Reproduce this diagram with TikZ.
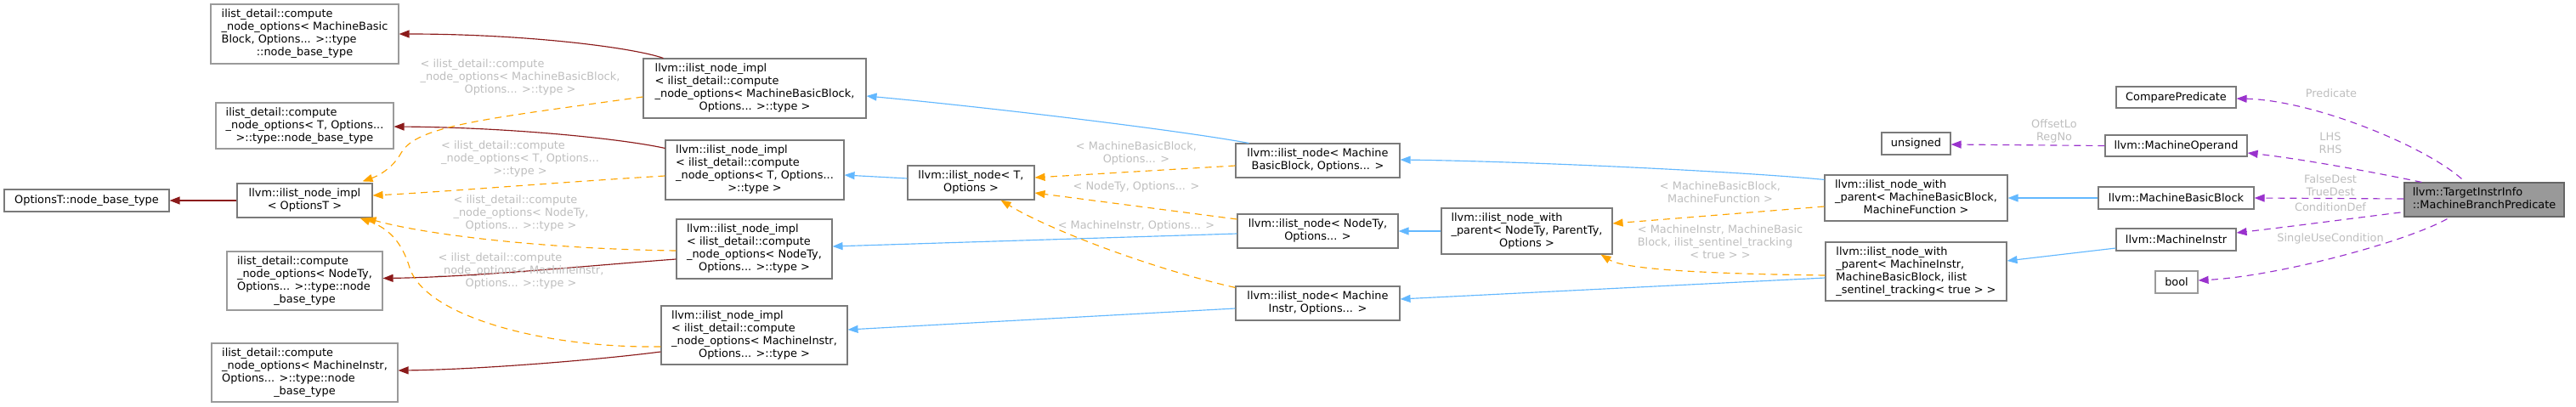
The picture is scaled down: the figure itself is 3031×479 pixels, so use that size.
\documentclass[tikz,border=0pt]{standalone}
\usepackage{fontspec}
\setmainfont{DejaVu Sans}
\usetikzlibrary{arrows.meta,calc}
\definecolor{edgered}{HTML}{8B1A1A}
\definecolor{edgeblue}{HTML}{63B8FF}
\definecolor{edgeorange}{HTML}{FFA500}
\definecolor{edgepurple}{HTML}{9A32CD}
\definecolor{lblgray}{HTML}{BEBEBE}
\definecolor{nodeborder}{HTML}{7A7A7A}
\definecolor{nodelight}{HTML}{9A9A9A}
\definecolor{mainfill}{HTML}{999999}
\newcommand\dxfont{\fontsize{12.9}{15}\selectfont}
\newcommand\dxl[2]{\renewcommand\arraystretch{1}\begin{tabular}{@{}l@{}}#1\\\multicolumn{1}{@{}c@{}}{#2}\end{tabular}}
\tikzset{
  box/.style={draw=nodeborder, fill=white, line width=1.1pt, inner sep=0pt, font=\dxfont, align=center},
  lbox/.style={box, draw=nodelight},
  mainbox/.style={box, draw=black!60, fill=mainfill},
  lbl/.style={text=lblgray, inner sep=0pt, font=\dxfont, align=center},
  edgebase/.style={line width=1.15pt, -{Triangle[length=12pt,width=9pt]}},
  redarr/.style={edgebase, draw=edgered, -{Triangle[length=12pt,width=9pt,fill=edgered]}},
  bluarr/.style={edgebase, draw=edgeblue, -{Triangle[length=12pt,width=9pt,fill=edgeblue]}},
  orarr/.style={edgebase, draw=edgeorange, dash pattern=on 8pt off 6pt, -{Triangle[length=12pt,width=9pt,fill=edgeorange]}},
  purarr/.style={edgebase, draw=edgepurple, dash pattern=on 8pt off 6pt, -{Triangle[length=12pt,width=9pt,fill=edgepurple]}},
}
\begin{document}
\begin{tikzpicture}[x=1pt,y=-1pt]
\useasboundingbox (0,0) rectangle (3031,479);
% nodes
\node[lbox, minimum width=221pt, minimum height=70pt] (a1) at (358.5,40) {\dxl{ilist\_detail::compute\\\_node\_options< MachineBasic\\Block, Options... >::type}{::node\_base\_type}};
\node[lbox, minimum width=209pt, minimum height=54pt] (a2) at (358.5,148) {\dxl{ilist\_detail::compute\\\_node\_options< T, Options...}{>::type::node\_base\_type}};
\node[box, minimum width=159pt, minimum height=40pt] (impl) at (358.5,236) {\dxl{llvm::ilist\_node\_impl}{< OptionsT >}};
\node[box, minimum width=194pt, minimum height=26pt] (ot) at (102,236) {OptionsT::node\_base\_type};
\node[lbox, minimum width=183pt, minimum height=69pt] (a3) at (358.5,330.5) {\dxl{ilist\_detail::compute\\\_node\_options< NodeTy,\\Options... >::type::node}{\_base\_type}};
\node[lbox, minimum width=219pt, minimum height=69pt] (a4) at (358.5,438.5) {\dxl{ilist\_detail::compute\\\_node\_options< MachineInstr,\\Options... >::type::node}{\_base\_type}};
\node[box, minimum width=262pt, minimum height=70pt] (b1) at (888,104) {\dxl{llvm::ilist\_node\_impl\\< ilist\_detail::compute\\\_node\_options< MachineBasicBlock,}{Options... >::type >}};
\node[box, minimum width=210pt, minimum height=70pt] (b2) at (888,200) {\dxl{llvm::ilist\_node\_impl\\< ilist\_detail::compute\\\_node\_options< T, Options...}{>::type >}};
\node[box, minimum width=183pt, minimum height=70pt] (b3) at (887.5,293) {\dxl{llvm::ilist\_node\_impl\\< ilist\_detail::compute\\\_node\_options< NodeTy,}{Options... >::type >}};
\node[box, minimum width=219pt, minimum height=69pt] (b4) at (887.5,394.5) {\dxl{llvm::ilist\_node\_impl\\< ilist\_detail::compute\\\_node\_options< MachineInstr,}{Options... >::type >}};
\node[box, minimum width=149pt, minimum height=40pt] (c1) at (1142.5,215) {\dxl{llvm::ilist\_node< T,}{Options >}};
\node[box, minimum width=193pt, minimum height=40pt] (d1) at (1550.5,189) {\dxl{llvm::ilist\_node< Machine}{BasicBlock, Options... >}};
\node[box, minimum width=189pt, minimum height=40pt] (d2) at (1550.5,272) {\dxl{llvm::ilist\_node< NodeTy,}{Options... >}};
\node[box, minimum width=193pt, minimum height=40pt] (d3) at (1550.5,357) {\dxl{llvm::ilist\_node< Machine}{Instr, Options... >}};
\node[box, minimum width=201pt, minimum height=54pt] (e1) at (1796.5,272) {\dxl{llvm::ilist\_node\_with\\\_parent< NodeTy, ParentTy,}{Options >}};
\node[box, minimum width=215pt, minimum height=54pt] (f1) at (2254.5,233) {\dxl{llvm::ilist\_node\_with\\\_parent< MachineBasicBlock,}{MachineFunction >}};
\node[box, minimum width=213pt, minimum height=69pt] (f2) at (2254.5,319.5) {\dxl{llvm::ilist\_node\_with\\\_parent< MachineInstr,\\MachineBasicBlock, ilist}{\_sentinel\_tracking< true > >}};
\node[box, minimum width=81pt, minimum height=26pt] (uns) at (2254.5,169) {unsigned};
\node[box, minimum width=141pt, minimum height=25pt] (cmp) at (2560.5,114.5) {ComparePredicate};
\node[box, minimum width=167pt, minimum height=25pt] (mop) at (2560.5,171.5) {llvm::MachineOperand};
\node[box, minimum width=183pt, minimum height=26pt] (mbb) at (2560.5,233) {llvm::MachineBasicBlock};
\node[box, minimum width=141pt, minimum height=26pt] (mi) at (2560.5,282) {llvm::MachineInstr};
\node[lbox, minimum width=50pt, minimum height=26pt] (boolt) at (2561,332) {bool};
\node[mainbox, minimum width=188pt, minimum height=40pt] (main) at (2923,235) {\dxl{llvm::TargetInstrInfo}{::MachineBranchPredicate}};
% red edges
\draw[redarr] ($(b1.north west)+(24,0)$) .. controls (745,56) and (620,40) .. (a1.east);
\draw[redarr] ($(b2.north west)+(0,10)$) .. controls (730,163) and (600,150) .. ($(a2.east)+(0,1)$);
\draw[redarr] ($(b3.west)+(0,12)$) .. controls (700,312) and (560,326) .. ($(a3.east)+(0,-3)$);
\draw[redarr] ($(b4.west)+(0,19.5)$) .. controls (700,424) and (560,435) .. ($(a4.east)+(0,-2.5)$);
\draw[redarr] (impl.west) -- (ot.east);
% orange edges to impl
\draw[orarr] ($(b1.west)+(0,10)$) .. controls (570,140) and (490,148) .. (472,180) .. controls (462,198) and (445,207) .. ($(impl.north east)+(-12,-2)$);
\draw[orarr] ($(b2.west)+(0,7)$) .. controls (650,215) and (520,226) .. ($(impl.east)+(0,-6)$);
\draw[orarr] ($(b3.west)+(0,2)$) .. controls (640,293) and (500,276) .. ($(impl.south east)+(-8,0)$);
\draw[orarr] ($(b4.west)+(0,13.5)$) .. controls (640,410) and (500,372) .. (482,315) .. controls (472,282) and (455,268) .. ($(impl.south east)+(-15,0)$);
\node[lbl] (l1) at (612,91) {\dxl{< ilist\_detail::compute\\\_node\_options< MachineBasicBlock,}{Options... >::type >}};
\node[lbl] (l2) at (612,187) {\dxl{< ilist\_detail::compute\\\_node\_options< T, Options...}{>::type >}};
\node[lbl] (l3) at (613,251) {\dxl{< ilist\_detail::compute\\\_node\_options< NodeTy,}{Options... >::type >}};
\node[lbl] (l4) at (613,319) {\dxl{< ilist\_detail::compute\\\_node\_options< MachineInstr,}{Options... >::type >}};
% blue edges
\draw[bluarr] ($(d1.north west)+(16,0)$) .. controls (1380,152) and (1150,125) .. ($(b1.east)+(0,9)$);
\draw[bluarr] ($(c1.west)+(0,-5)$) -- ($(b2.east)+(0,6)$);
\draw[bluarr] ($(d2.west)+(0,3)$) -- ($(b3.east)+(0,-3)$);
\draw[bluarr] ($(d3.west)+(0,6)$) -- ($(b4.east)+(0,-6.5)$);
\draw[bluarr] ($(f1.north west)+(0,6)$) .. controls (2050,202) and (1800,190) .. ($(d1.east)+(0,-1)$);
\draw[bluarr] (e1.west) -- (d2.east);
\draw[bluarr] ($(f2.west)+(0,7.5)$) -- ($(d3.east)+(0,-5)$);
\draw[bluarr] (mbb.west) -- (f1.east);
\draw[bluarr] ($(mi.west)+(0,10)$) -- ($(f2.east)+(0,-12.5)$);
% orange edges to c1
\draw[orarr] ($(d1.west)+(0,6)$) -- ($(c1.east)+(0,-6)$);
\draw[orarr] ($(d2.west)+(0,-14)$) -- ($(c1.east)+(0,12)$);
\draw[orarr] ($(d3.north west)+(0,2)$) .. controls (1350,315) and (1230,268) .. ($(c1.south east)+(-40,0)$);
\node[lbl] (l5) at (1337,180.5) {\dxl{< MachineBasicBlock,}{Options... >}};
\node[lbl] (l6) at (1337,220) {< NodeTy, Options... >};
\node[lbl] (l7) at (1337,266) {< MachineInstr, Options... >};
% orange edges to e1
\draw[orarr] ($(f1.west)+(0,10)$) -- ($(e1.east)+(0,-9)$);
\draw[orarr] ($(f2.west)+(0,4.5)$) .. controls (1990,322) and (1910,316) .. ($(e1.south east)+(-14,0)$);
\node[lbl] (l8) at (2024,227.5) {\dxl{< MachineBasicBlock,}{MachineFunction >}};
\node[lbl] (l9) at (2024,286) {\dxl{< MachineInstr, MachineBasic\\Block, ilist\_sentinel\_tracking}{< true > >}};
% purple edges
\draw[purarr] ($(main.north west)+(68,-4)$) .. controls (2850,170) and (2720,118) .. ($(cmp.east)+(0,1.5)$);
\draw[purarr] ($(main.north west)+(21,0)$) .. controls (2780,200) and (2700,186) .. ($(mop.east)+(0,8.5)$);
\draw[purarr] ($(main.west)+(0,-1)$) -- (mbb.east);
\draw[purarr] ($(main.west)+(-4,15)$) .. controls (2760,258) and (2700,266) .. ($(mi.east)+(0,-8)$);
\draw[purarr] ($(main.south west)+(51,2)$) .. controls (2830,285) and (2680,325) .. ($(boolt.east)+(0,-2)$);
\draw[purarr] (mop.west) -- ($(uns.east)+(0,1)$);
\node[lbl] (l10) at (2417,154) {OffsetLo\\RegNo};
\node[lbl] (l11) at (2743,110) {Predicate};
\node[lbl] (l12) at (2742,168) {LHS\\RHS};
\node[lbl] (l13) at (2742,218) {FalseDest\\TrueDest};
\node[lbl] (l14) at (2742,244) {ConditionDef};
\node[lbl] (l15) at (2742,281) {SingleUseCondition};
\end{tikzpicture}
\end{document}
